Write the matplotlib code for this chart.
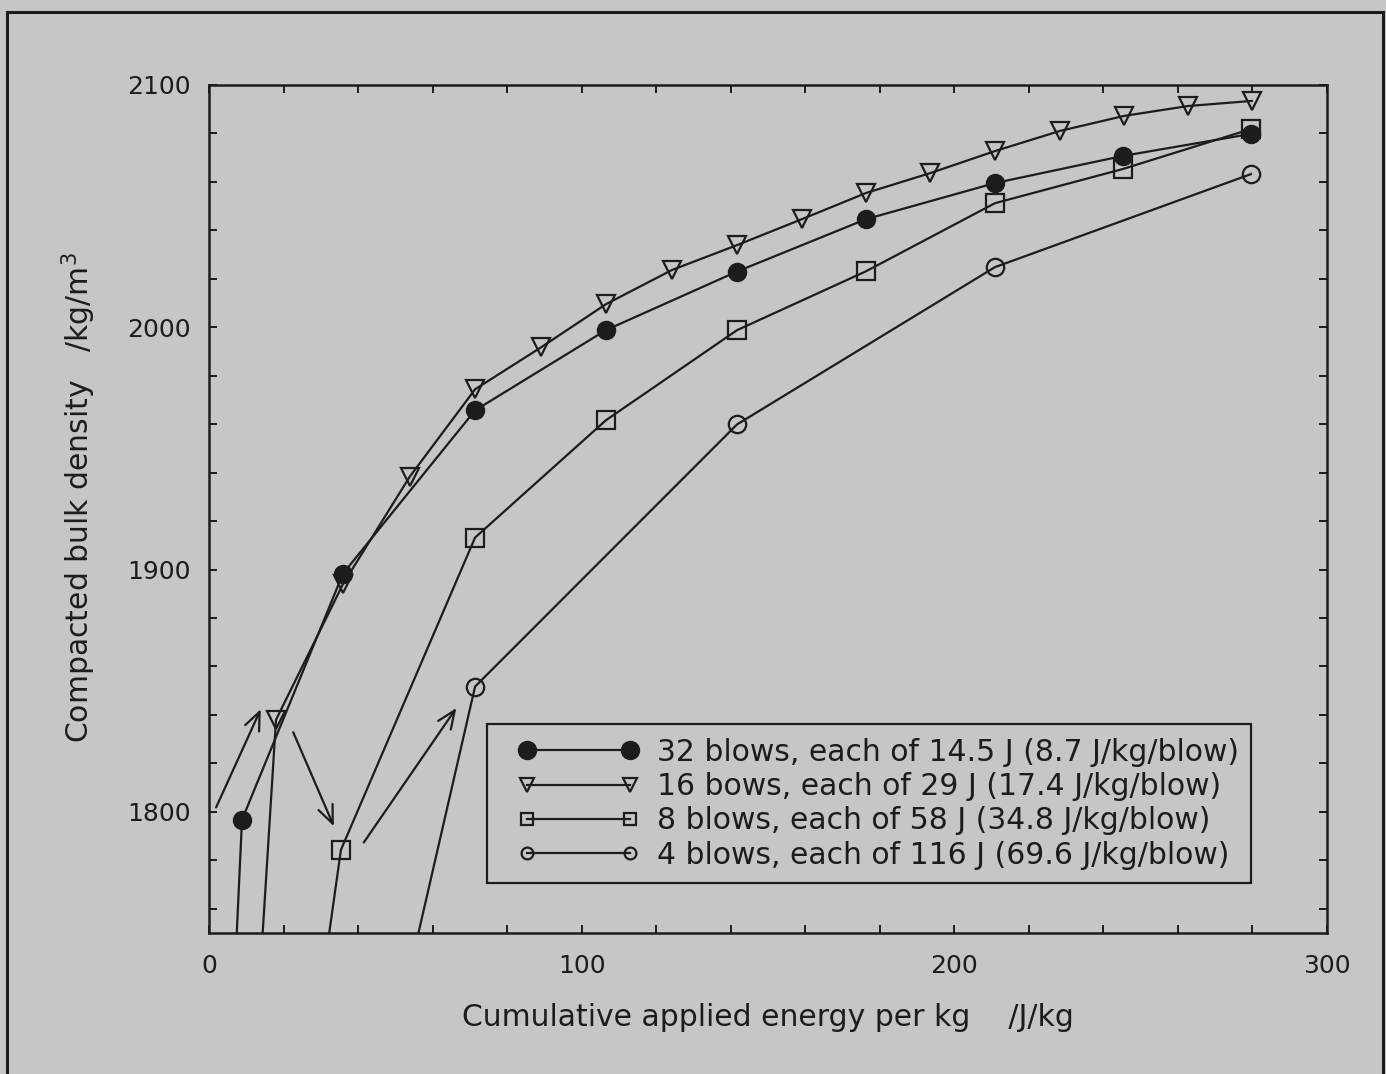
import matplotlib.pyplot as plt
from matplotlib.patches import Rectangle
from matplotlib.ticker import MultipleLocator

plt.rcParams['font.family'] = ['DejaVu Sans']

# cumulative energy (J/kg) and compacted density (kg/m3)
x32 = [0, 8.85, 35.95, 71.4, 106.5, 141.7, 176.3, 210.9, 245.2, 279.6]
y32 = [1501, 1796.7, 1898.3, 1965.7, 1998.8, 2023.0, 2044.6, 2059.5, 2070.7, 2079.8]

x16 = [0, 17.98, 35.95, 53.9, 71.4, 89.1, 106.5, 124.2, 141.7, 159.1, 176.3,
       193.5, 210.9, 228.3, 245.5, 262.7, 279.8]
y16 = [1396, 1838, 1894, 1938.4, 1974.4, 1991.7, 2009.5, 2023.6, 2033.9,
       2044.6, 2055.4, 2063.6, 2072.7, 2081.0, 2087.2, 2091.3, 2093.4]

x8 = [0, 35.4, 71.4, 106.5, 141.7, 176.3, 210.9, 245.2, 279.6]
y8 = [1398, 1784.3, 1913.2, 1961.6, 1998.8, 2023.1, 2051.2, 2065.3, 2081.8]

x4 = [0, 71.4, 141.7, 210.9, 279.6]
y4 = [1374, 1851.7, 1959.9, 2024.8, 2063.2]

labels = ["32 blows, each of 14.5 J (8.7 J/kg/blow)",
          "16 bows, each of 29 J (17.4 J/kg/blow)",
          "8 blows, each of 58 J (34.8 J/kg/blow)",
          "4 blows, each of 116 J (69.6 J/kg/blow)"]

# arrows (tail x, tail y, head x, head y)
arrows = [(1.6, 1800.8, 14.2, 1843.4),
          (22.3, 1833.9, 33.8, 1793.0),
          (41.1, 1786.4, 66.8, 1843.8)]

bg = '#c6c6c6'
ink = '#1c1c1c'

fig = plt.figure(figsize=(13.86, 10.74), dpi=100, facecolor=bg)
ax = fig.add_axes([0.1508, 0.1313, 0.8066, 0.7896], facecolor=bg)

lw = 1.6
ax.plot(x32, y32, color=ink, lw=lw, marker='o', ms=13,
        mfc=ink, mec=ink, label=labels[0])
ax.plot(x16, y16, color=ink, lw=lw, marker='v', ms=13,
        mfc='none', mec=ink, mew=1.6, label=labels[1])
ax.plot(x8, y8, color=ink, lw=lw, marker='s', ms=12.5,
        mfc='none', mec=ink, mew=1.6, label=labels[2])
ax.plot(x4, y4, color=ink, lw=lw, marker='o', ms=12.5,
        mfc='none', mec=ink, mew=1.6, label=labels[3])

for x0, y0, x1, y1 in arrows:
    ax.annotate('', xy=(x1, y1), xytext=(x0, y0),
                arrowprops=dict(arrowstyle='->,head_length=1.3,head_width=0.55',
                                color=ink, lw=1.6))

ax.set_xlim(0, 300)
ax.set_ylim(1750, 2100)
ax.xaxis.set_major_locator(MultipleLocator(100))
ax.xaxis.set_minor_locator(MultipleLocator(20))
ax.yaxis.set_major_locator(MultipleLocator(100))
ax.yaxis.set_minor_locator(MultipleLocator(20))
ax.tick_params(which='both', direction='in', top=True, right=True,
               length=6, width=1.4, color=ink, labelsize=18,
               labelcolor=ink, pad=15)
ax.tick_params(axis='y', pad=13)
for s in ax.spines.values():
    s.set_linewidth(1.8)
    s.set_color(ink)

ax.set_xlabel("Cumulative applied energy per kg    /J/kg", fontsize=21.5,
              color=ink, labelpad=18)
ax.set_ylabel("Compacted bulk density   /kg/m$^3$", fontsize=21.5, color=ink)
ax.yaxis.set_label_coords(-0.099, 0.514)

# legend entries without frame, plus the drawn box around them
leg = ax.legend(loc='upper left', bbox_to_anchor=(0.2767, 0.2304),
                numpoints=2, fontsize=21.5, frameon=False,
                handlelength=4.04, handletextpad=0.6, labelspacing=0.18,
                borderpad=0, borderaxespad=0)
for t in leg.get_texts():
    t.set_color(ink)
for h, size in zip(leg.legend_handles, [13, 9.5, 9, 8.5]):
    h.set_markersize(size)
ax.add_patch(Rectangle((0.2487, 0.059), 0.6833, 0.1875, transform=ax.transAxes,
                       fill=False, edgecolor=ink, lw=1.6, zorder=5))

# page frame of the scanned figure
fig.patches.append(Rectangle((7 / 1386, -0.05), 1376 / 1386, 1.05 - 12 / 1074,
                             transform=fig.transFigure, fill=False,
                             edgecolor=ink, lw=2.2))

fig.savefig("out.png", dpi=100, facecolor=bg)
